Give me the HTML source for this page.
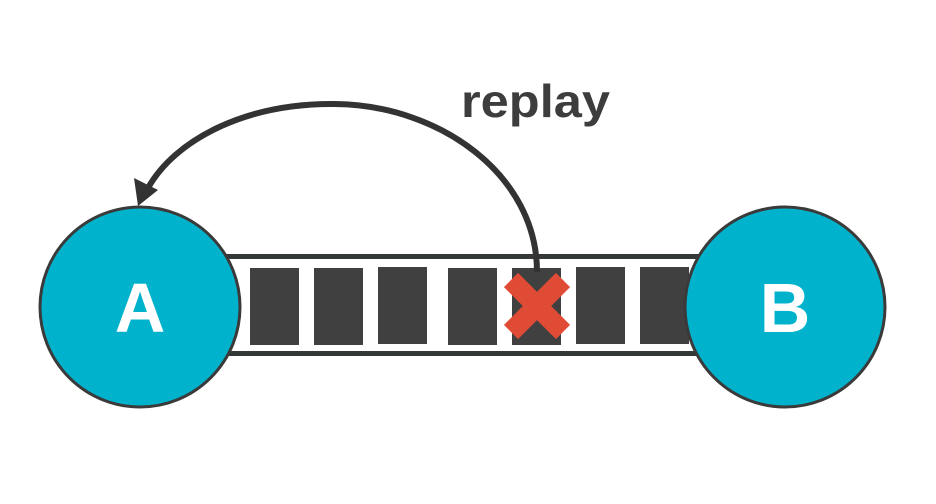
<!DOCTYPE html>
<html><head><meta charset="utf-8"><style>
html,body{margin:0;padding:0;background:#fff;}
svg{display:block;}
</style></head><body>
<svg width="936" height="504" viewBox="0 0 936 504">
  <g>
    <rect x="200" y="254" width="540" height="5" fill="#353838"/>
    <rect x="200" y="351" width="540" height="5" fill="#353838"/>
  </g>
  <g fill="#404040">
    <rect x="250" y="268" width="49" height="77"/>
    <rect x="314" y="268" width="49" height="77"/>
    <rect x="378" y="267" width="49" height="77"/>
    <rect x="448" y="268" width="49" height="77"/>
    <rect x="512" y="268" width="49" height="77"/>
    <rect x="576" y="267" width="49" height="77"/>
    <rect x="640" y="267" width="49" height="77"/>
  </g>
  <circle cx="140" cy="307" r="100" fill="#00b2cb" stroke="#3a3a3a" stroke-width="3"/>
  <text x="140" y="332" text-anchor="middle" font-family="Liberation Sans, sans-serif" font-weight="bold" font-size="70" fill="#fff">A</text>
  <circle cx="785" cy="307" r="100" fill="#00b2cb" stroke="#3a3a3a" stroke-width="3"/>
  <text x="785" y="332" text-anchor="middle" font-family="Liberation Sans, sans-serif" font-weight="bold" font-size="70" fill="#fff">B</text>
  <path d="M537,272 C537,175 440,105 335,104 C245,103 175,140 148,188" fill="none" stroke="#333" stroke-width="6"/>
  <polygon points="138,206 134,178 158,190" fill="#333"/>
  <g>
    <line x1="511" y1="280" x2="563" y2="332" stroke="#e04b35" stroke-width="20"/>
    <line x1="563" y1="280" x2="511" y2="332" stroke="#e04b35" stroke-width="20"/>
  </g>
  <text x="461" y="117" textLength="149" lengthAdjust="spacingAndGlyphs" font-family="Liberation Sans, sans-serif" font-weight="bold" font-size="46" fill="#3d3d3d">replay</text>
</svg>
</body></html>
